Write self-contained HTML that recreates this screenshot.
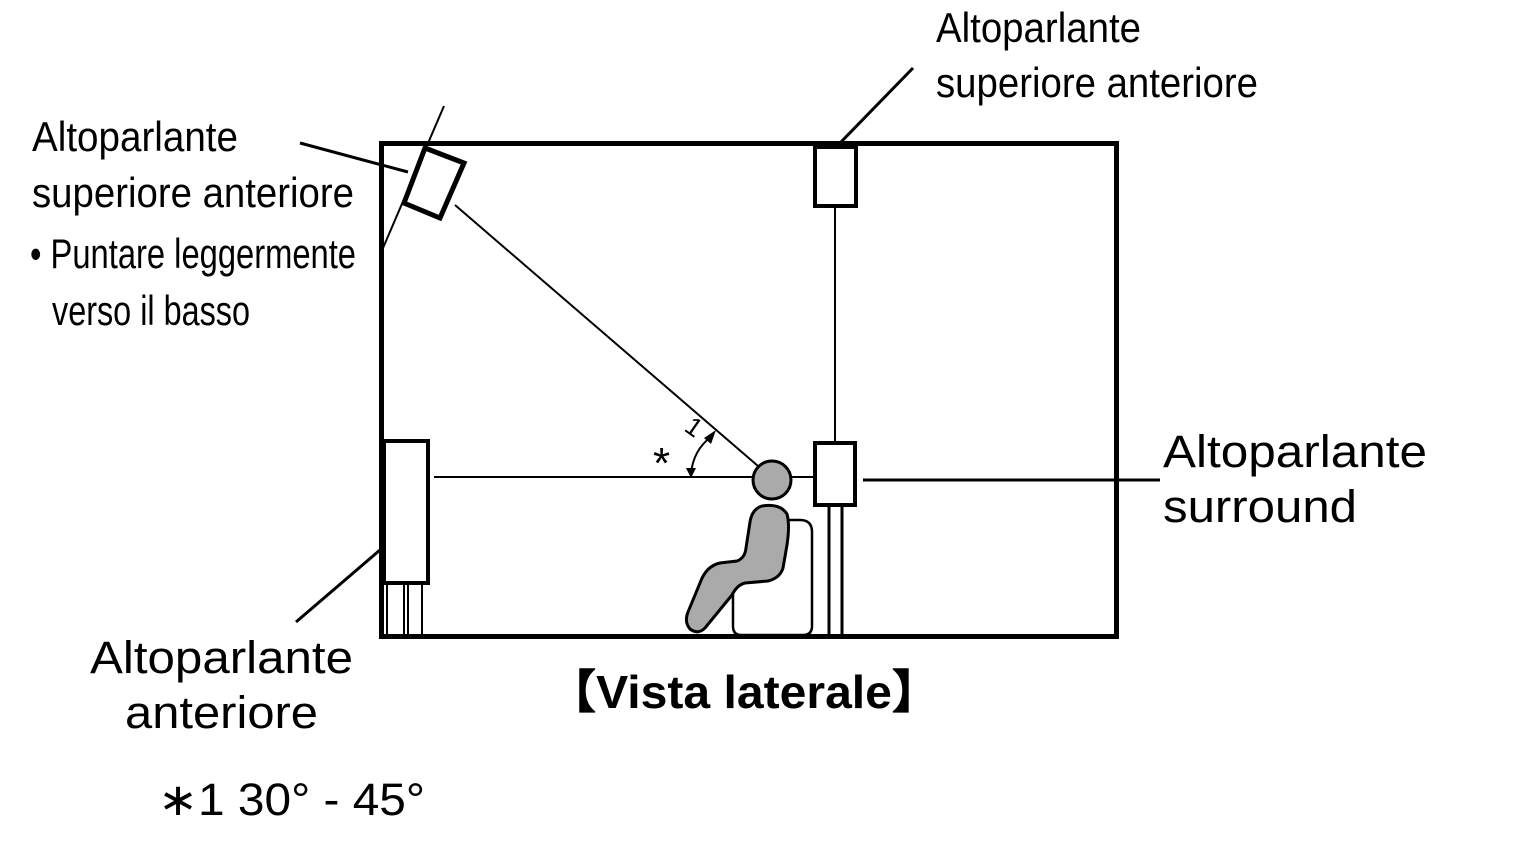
<!DOCTYPE html>
<html><head><meta charset="utf-8"><style>html,body{margin:0;padding:0;background:#fff}svg{display:block}</style></head>
<body>
<svg width="1525" height="848" viewBox="0 0 1525 848" xmlns="http://www.w3.org/2000/svg" font-family="Liberation Sans, Arial, sans-serif">
<rect width="1525" height="848" fill="#fff"/>
<g fill="none" stroke="#000">
<rect x="381.5" y="143.5" width="735" height="493" stroke-width="5"/>
<polygon points="425,148 464,163 440,218 404,203" stroke-width="5" fill="#fff"/>
<line x1="444" y1="106" x2="380" y2="255" stroke-width="2"/>
<line x1="300" y1="143" x2="408" y2="172" stroke-width="3"/>
<line x1="455" y1="205" x2="758" y2="466" stroke-width="2"/>
<rect x="384" y="441" width="44" height="142" stroke-width="4" fill="#fff"/>
<line x1="387" y1="584" x2="387" y2="636" stroke-width="2"/>
<line x1="404" y1="584" x2="404" y2="636" stroke-width="2"/>
<line x1="408" y1="584" x2="408" y2="636" stroke-width="2"/>
<line x1="422" y1="584" x2="422" y2="636" stroke-width="2"/>
<line x1="434" y1="477" x2="755" y2="477" stroke-width="2"/>
<line x1="380" y1="550" x2="296" y2="622" stroke-width="3"/>
<rect x="815" y="147" width="41" height="59" stroke-width="4" fill="#fff"/>
<line x1="840" y1="143" x2="913" y2="68" stroke-width="3"/>
<line x1="835" y1="206" x2="835" y2="442" stroke-width="2"/>
<rect x="815" y="443" width="40" height="62" stroke-width="4" fill="#fff"/>
<line x1="829" y1="505" x2="829" y2="636" stroke-width="3"/>
<line x1="842" y1="505" x2="842" y2="636" stroke-width="3"/>
<line x1="790" y1="477" x2="815" y2="477" stroke-width="2"/>
<line x1="863" y1="480" x2="1160" y2="480" stroke-width="3"/>
<path d="M786,520 L800,520 Q812,520 812,532 L812,626 Q812,635 803,635 L741,635 Q733,635 733,626 L733,585" stroke-width="2.5"/>
<path d="M762,506 Q780,503 787,514 Q790,525 787,545 L783,568 Q780,578 768,581 L745,583 Q737,585 732,595 L705,628 Q698,635 690,629 Q684,622 688,612 L700,583 Q706,566 720,563 L737,561 Q745,558 746,548 L750,522 Q752,509 762,506 Z" fill="#aaa" stroke-width="3"/>
<circle cx="772" cy="480" r="19" fill="#aaa" stroke-width="3"/>
<path d="M691,474 Q693,450 712,436" stroke-width="2"/>
</g>
<polygon points="686,468 696,468 691,478" fill="#000"/>
<polygon points="704,438 716,430 711,444" fill="#000"/>
<text x="653" y="478" font-size="44">*</text>
<text transform="translate(683,430) rotate(35)" font-size="26">1</text>
<g fill="#000">
<text x="32" y="151" font-size="42" textLength="206" lengthAdjust="spacingAndGlyphs">Altoparlante</text>
<text x="32" y="207" font-size="42" textLength="322" lengthAdjust="spacingAndGlyphs">superiore anteriore</text>
<text x="30" y="268" font-size="42" textLength="326" lengthAdjust="spacingAndGlyphs">• Puntare leggermente</text>
<text x="52" y="325" font-size="42" textLength="198" lengthAdjust="spacingAndGlyphs">verso il basso</text>
<text x="936" y="42" font-size="42" textLength="205" lengthAdjust="spacingAndGlyphs">Altoparlante</text>
<text x="936" y="97" font-size="42" textLength="322" lengthAdjust="spacingAndGlyphs">superiore anteriore</text>
<text x="1163" y="467" font-size="45" textLength="264" lengthAdjust="spacingAndGlyphs">Altoparlante</text>
<text x="1163" y="522" font-size="45" textLength="194" lengthAdjust="spacingAndGlyphs">surround</text>
<text x="90" y="673" font-size="45" textLength="263" lengthAdjust="spacingAndGlyphs">Altoparlante</text>
<text x="125" y="728" font-size="45" textLength="193" lengthAdjust="spacingAndGlyphs">anteriore</text>
<text x="548" y="708" font-size="46" font-weight="bold" textLength="392" lengthAdjust="spacingAndGlyphs">【Vista laterale】</text>
<text x="158" y="815" font-size="45" textLength="267" lengthAdjust="spacingAndGlyphs">∗1 30° - 45°</text>
</g>
</svg>
</body></html>
